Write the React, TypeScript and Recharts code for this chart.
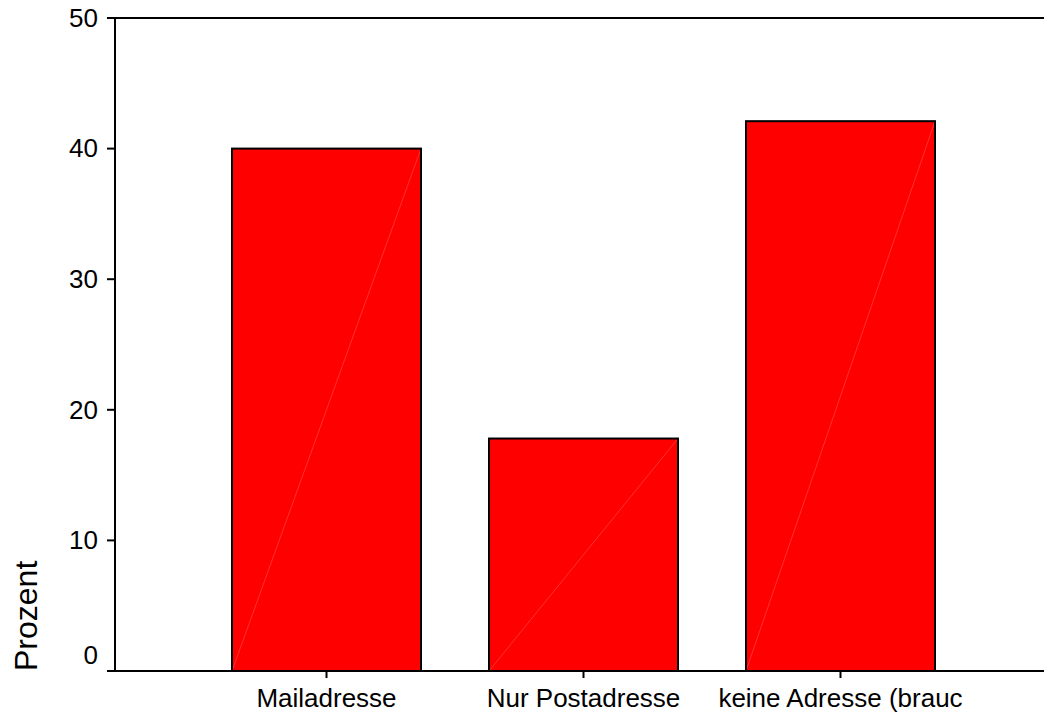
import { Bar, BarChart, ReferenceLine, XAxis, YAxis } from "recharts";

const categories = ["Mailadresse", "Nur Postadresse", "keine Adresse (brauc"];
const percent = [40.0, 17.8, 42.1];
const yTicks = [0, 10, 20, 30, 40, 50];

const data = categories.map((name, i) => ({ name, value: percent[i] }));

const FONT = '"Liberation Sans", Arial, sans-serif';

const YTick = ({ x, y, payload }: any) => {
  // SPSS nudges the zero label up so it clears the axis
  const shift = payload.value === 0 ? -14 : 2;
  return (
    <text
      x={x}
      y={y + shift}
      textAnchor="end"
      dominantBaseline="middle"
      fontSize={26}
      fontFamily={FONT}
      fill="#000"
    >
      {payload.value}
    </text>
  );
};

const XTick = ({ x, y, payload }: any) => (
  <text
    x={x}
    y={y}
    dy="0.8em"
    textAnchor="middle"
    fontSize={26}
    fontFamily={FONT}
    fill="#000"
  >
    {payload.value}
  </text>
);

const BarShape = (props: any) => {
  const { x, y, width, height } = props;
  return (
    <g>
      <rect x={x} y={y} width={width} height={height} fill="#ff0000" />
      <line
        x1={x}
        y1={y + height}
        x2={x + width}
        y2={y}
        stroke="#ff5050"
        strokeWidth={0.6}
      />
      <rect
        x={x}
        y={y}
        width={width}
        height={height}
        fill="none"
        stroke="#000"
        strokeWidth={2}
      />
    </g>
  );
};

const YLabel = ({ viewBox }: any) => {
  const bottom = viewBox.y + viewBox.height;
  return (
    <text
      x={37}
      y={bottom}
      transform={`rotate(-90, 37, ${bottom})`}
      textAnchor="start"
      fontSize={32}
      fontFamily={FONT}
      fill="#000"
    >
      Prozent
    </text>
  );
};

export default function App() {
  return (
    <div
      style={{
        position: "absolute",
        left: 0,
        top: 0,
        width: 1044,
        height: 718,
        overflow: "hidden",
        background: "#fff",
      }}
    >
      <BarChart
        width={1052}
        height={718}
        data={data}
        margin={{ top: 18, right: 0, bottom: 0, left: 0 }}
      >
        <XAxis
          dataKey="name"
          height={47}
          padding={{ left: 83, right: 83 }}
          stroke="#000"
          strokeWidth={2}
          tickSize={7}
          tickMargin={8}
          tickLine={{ stroke: "#000", strokeWidth: 2 }}
          tick={<XTick />}
          interval={0}
        />
        <YAxis
          width={115}
          domain={[0, 50]}
          ticks={yTicks}
          stroke="#000"
          strokeWidth={2}
          tickSize={8}
          tickMargin={9}
          tickLine={{ stroke: "#000", strokeWidth: 2 }}
          tick={<YTick />}
          label={<YLabel />}
        />
        <ReferenceLine y={50} stroke="#000" strokeWidth={2} />
        <Bar
          dataKey="value"
          barSize={189}
          shape={<BarShape />}
          isAnimationActive={false}
        />
      </BarChart>
    </div>
  );
}
